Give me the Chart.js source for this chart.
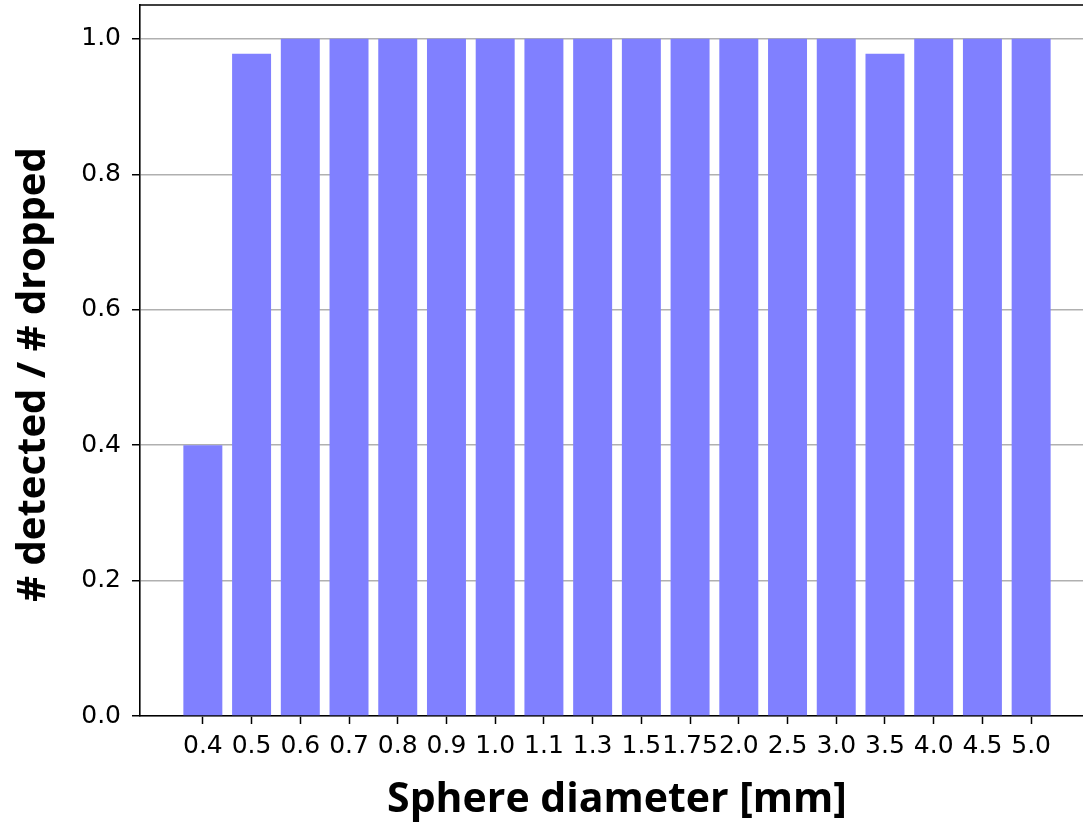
<!DOCTYPE html>
<html><head><meta charset="utf-8">
<script src="https://cdn.jsdelivr.net/npm/chart.js@4/dist/chart.umd.min.js"></script>
<style>
html,body{margin:0;padding:0;overflow:hidden;background:#fff;}
#wrap{position:relative;width:1095px;height:823px;}
</style></head><body>
<div id="wrap"><canvas id="c"></canvas></div>
<script>
const categories = ['0.4','0.5','0.6','0.7','0.8','0.9','1.0','1.1','1.3','1.5','1.75','2.0','2.5','3.0','3.5','4.0','4.5','5.0'];
const ratios = [0.4,0.978,1,1,1,1,1,1,1,1,1,1,1,1,0.978,1,1,1];
const yTicks = [0,0.2,0.4,0.6,0.8,1.0];
const xTitle = 'Sphere diameter [mm]';
const yTitle = '# detected / # dropped';

const points = categories.map((c, i) => ({x: i, y: ratios[i]}));
const xMargin = 0.05 * (categories.length - 1 + 0.8);

const framePlugin = {
  id: 'frame',
  afterDraw(chart) {
    const {ctx, chartArea: a} = chart;
    ctx.save();
    ctx.strokeStyle = '#000';
    ctx.lineWidth = 1.6;
    ctx.beginPath();
    ctx.moveTo(a.left, a.top); ctx.lineTo(a.right, a.top); ctx.lineTo(a.right, a.bottom);
    ctx.stroke();
    // y axis title, centred like the reference
    ctx.translate(45, (a.top + a.bottom) / 2 + 14);
    ctx.rotate(-Math.PI / 2);
    ctx.font = 'bold 40px "Open Sans"';
    ctx.fillStyle = '#000';
    ctx.textAlign = 'center';
    ctx.textBaseline = 'alphabetic';
    ctx.fillText(yTitle, 0, 0);
    ctx.restore();
  }
};

new Chart(document.getElementById('c'), {
  type: 'bar',
  data: { datasets: [{ data: points, backgroundColor: 'rgb(128,128,255)', borderWidth: 0,
    categoryPercentage: 1.0, barPercentage: 0.8 }] },
  options: {
    responsive: true, maintainAspectRatio: false, animation: false,
    layout: { padding: { top: 5, right: 1, bottom: 0, left: 0 } },
    plugins: { legend: { display: false }, tooltip: { enabled: false } },
    scales: {
      x: {
        type: 'linear', offset: false,
        min: -0.4 - xMargin, max: categories.length - 1 + 0.4 + xMargin,
        afterBuildTicks: s => { s.ticks = categories.map((c, i) => ({value: i})); },
        afterFit: s => { s.height = 823 - 716; s.paddingLeft = 0; s.paddingRight = 0; },
        grid: { display: true, drawOnChartArea: false, drawTicks: true, tickLength: 8, tickColor: '#000', tickWidth: 1.5, offset: false },
        border: { display: true, color: '#000', width: 1.6 },
        ticks: { autoSkip: false, maxRotation: 0, minRotation: 0, padding: 7, color: '#000',
          font: { family: 'DejaVu Sans', size: 25 },
          callback: v => categories[v] },
        title: { display: true, text: xTitle, color: '#000',
          font: { family: 'Open Sans', size: 41, weight: 'bold', lineHeight: 1 },
          padding: { top: 0, bottom: 2 } }
      },
      y: {
        min: 0, max: 1.05, z: 1,
        afterBuildTicks: s => { s.ticks = yTicks.map(v => ({value: v})); },
        afterFit: s => { s.width = 140; s.paddingTop = 0; s.paddingBottom = 0; },
        grid: { color: '#b0b0b0', lineWidth: 1.5, tickColor: '#000', tickLength: 8, tickWidth: 1.5 },
        border: { display: true, color: '#000', width: 1.6 },
        ticks: { padding: 11, color: '#000', font: { family: 'DejaVu Sans', size: 25 },
          callback: v => Number(v).toFixed(1) },
        title: { display: false }
      }
    }
  },
  plugins: [framePlugin]
});
</script>
</body></html>
